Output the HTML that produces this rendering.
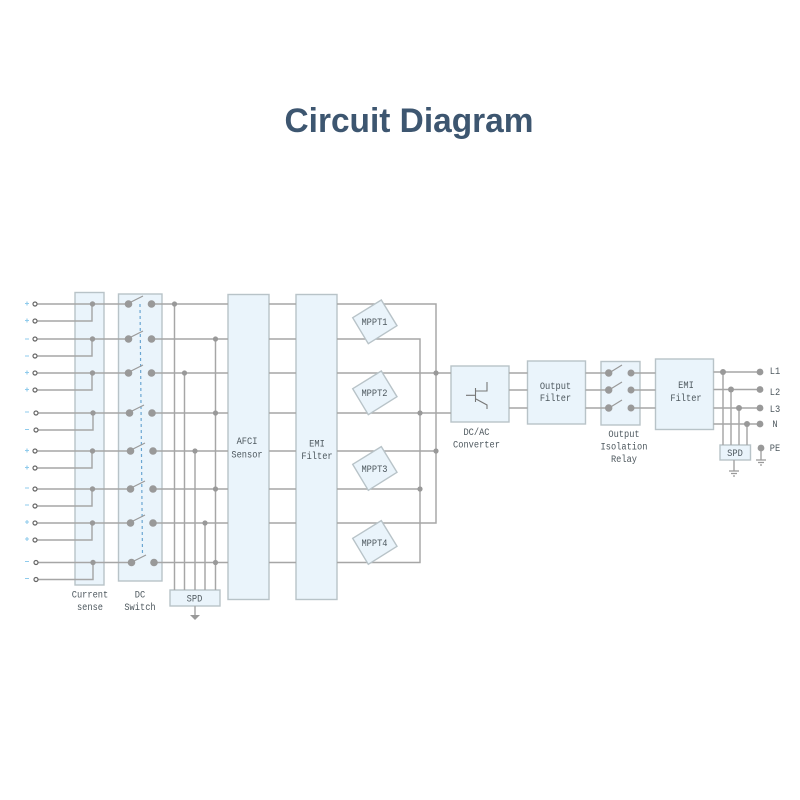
<!DOCTYPE html>
<html><head><meta charset="utf-8"><title>Circuit Diagram</title>
<style>
html,body{margin:0;padding:0;background:#fff;width:800px;height:800px;overflow:hidden}
svg{display:block}
.b{fill:#eaf4fb;stroke:#b8c3c8;stroke-width:1.4}
.w{fill:none;stroke:#a6a6a6;stroke-width:1.45}
.d{fill:#999}
.t{fill:#fff;stroke:#666;stroke-width:1.2}
.l text{font-family:"Liberation Mono",monospace;font-size:8.7px;fill:#4e585e;text-anchor:middle;transform-box:fill-box;transform-origin:50% 80%;transform:scaleY(1.18)}
.s{stroke:#8fcbec;stroke-width:1.1}
</style></head><body>
<svg width="800" height="800" viewBox="0 0 800 800" xmlns="http://www.w3.org/2000/svg">
<defs><filter id="soft" x="0" y="0" width="100%" height="100%"><feGaussianBlur stdDeviation="0.35"/></filter></defs>
<g filter="url(#soft)">
<text x="409" y="132" font-family="Liberation Sans,sans-serif" font-weight="700" font-size="34" fill="#3e5670" text-anchor="middle" textLength="249" lengthAdjust="spacingAndGlyphs">Circuit Diagram</text>

<!-- boxes -->
<rect class="b" x="75" y="292.5" width="29" height="292.5"/>
<rect class="b" x="118.5" y="294" width="43.5" height="287"/>
<rect class="b" x="228" y="294.5" width="41" height="305"/>
<rect class="b" x="296" y="294.5" width="41" height="305"/>
<rect class="b" x="170" y="590" width="50" height="16"/>
<rect class="b" x="451" y="366" width="58" height="56"/>
<rect class="b" x="527.5" y="361" width="58" height="63"/>
<rect class="b" x="601" y="361.5" width="39" height="63.5"/>
<rect class="b" x="655.5" y="359" width="58" height="70.5"/>
<rect class="b" x="720" y="445" width="30.5" height="15"/>

<!-- input wires -->
<g class="w">
<path d="M36 304H128M151 304H228M36 321H92V304"/>
<path d="M36 339H128M151 339H228M36 356H92V339"/>
<path d="M36 373H128M151 373H228M36 390H92V373"/>
<path d="M37 413H129M152 413H228M37 430H93V413"/>
<path d="M36 451H130M153 451H228M36 468H92V451"/>
<path d="M36 489H130M153 489H228M36 506H92V489"/>
<path d="M36 523H130M153 523H228M36 540H92V523"/>
<path d="M37 562.5H131M154 562.5H228M37 579.5H93V562.5"/>
<path d="M174.5 304V590M184.5 373V590M195 451V590M205 523V590M215.5 339V590"/>
<path d="M195 606V615"/>
<path d="M269 304H296M269 339H296M269 373H296M269 413H296M269 451H296M269 489H296M269 523H296M269 562.5H296"/>
<path d="M337 304H436V523H337"/>
<path d="M337 339H420V562.5H337"/>
<path d="M337 373H451M337 413H451M337 451H436M337 489H420"/>
<path d="M509 373H527.5M509 390H527.5M509 408H527.5"/>
<path d="M585.5 373H609M585.5 390H609M585.5 408H609"/>
<path d="M631 373H655.5M631 390H655.5M631 408H655.5"/>
<path d="M713.5 372H760M713.5 389.5H760M713.5 408H760M713.5 424H760"/>
<path d="M723 372V445M731 389.5V445M739 408V445M747 424V445"/>
<path d="M734 460V471M761 448V460"/>
</g>
<path d="M190 615H200L195 620Z" fill="#999"/>
<path d="M729 471H739M731 473.5H737M733 476H735M756 460H766M758 462.5H764M760 465H762" stroke="#999" stroke-width="1.2" fill="none"/>

<!-- dashed ganged switch link -->
<path d="M140 304L142.5 556" stroke="#6ba6d2" stroke-width="1.2" stroke-dasharray="3 3" fill="none"/>

<!-- switch levers -->
<g stroke="#999" stroke-width="1.2" fill="none">
<path d="M129 303L143 296M129 338L143 331M129 372L143 365M130 412L144 405M131 450L145 443M131 488L145 481M131 522L145 515M132 562L146 555"/>
<path d="M609 373L622 365M609 390L622 382M609 408L622 400"/>
</g>

<!-- dots -->
<g class="d">
<circle cx="92.5" cy="304" r="2.7"/><circle cx="92.5" cy="339" r="2.7"/><circle cx="92.5" cy="373" r="2.7"/><circle cx="93" cy="413" r="2.7"/>
<circle cx="92.5" cy="451" r="2.7"/><circle cx="92.5" cy="489" r="2.7"/><circle cx="92.5" cy="523" r="2.7"/><circle cx="93" cy="562.5" r="2.7"/>
<circle cx="128.5" cy="304" r="3.8"/><circle cx="151.5" cy="304" r="3.8"/>
<circle cx="128.5" cy="339" r="3.8"/><circle cx="151.5" cy="339" r="3.8"/>
<circle cx="128.5" cy="373" r="3.8"/><circle cx="151.5" cy="373" r="3.8"/>
<circle cx="129.5" cy="413" r="3.8"/><circle cx="152" cy="413" r="3.8"/>
<circle cx="130.5" cy="451" r="3.8"/><circle cx="153" cy="451" r="3.8"/>
<circle cx="130.5" cy="489" r="3.8"/><circle cx="153" cy="489" r="3.8"/>
<circle cx="130.5" cy="523" r="3.8"/><circle cx="153" cy="523" r="3.8"/>
<circle cx="131.5" cy="562.5" r="3.8"/><circle cx="154" cy="562.5" r="3.8"/>
<circle cx="174.5" cy="304" r="2.6"/><circle cx="215.5" cy="339" r="2.6"/><circle cx="184.5" cy="373" r="2.6"/><circle cx="215.5" cy="413" r="2.6"/>
<circle cx="195" cy="451" r="2.6"/><circle cx="215.5" cy="489" r="2.6"/><circle cx="205" cy="523" r="2.6"/><circle cx="215.5" cy="562.5" r="2.6"/>
<circle cx="436" cy="373" r="2.6"/><circle cx="420" cy="413" r="2.6"/><circle cx="436" cy="451" r="2.6"/><circle cx="420" cy="489" r="2.6"/>
<circle cx="608.7" cy="373" r="3.7"/><circle cx="631" cy="373" r="3.5"/>
<circle cx="608.7" cy="390" r="3.7"/><circle cx="631" cy="390" r="3.5"/>
<circle cx="608.7" cy="408" r="3.7"/><circle cx="631" cy="408" r="3.5"/>
<circle cx="723" cy="372" r="3"/><circle cx="731" cy="389.5" r="3"/><circle cx="739" cy="408" r="3"/><circle cx="747" cy="424" r="3"/>
<circle cx="760" cy="372" r="3.4"/><circle cx="760" cy="389.5" r="3.4"/><circle cx="760" cy="408" r="3.4"/><circle cx="760" cy="424" r="3.4"/><circle cx="761" cy="448" r="3.4"/>
</g>

<!-- terminals -->
<g class="t">
<circle cx="35" cy="304" r="2"/><circle cx="35" cy="321" r="2"/><circle cx="35" cy="339" r="2"/><circle cx="35" cy="356" r="2"/>
<circle cx="35" cy="373" r="2"/><circle cx="35" cy="390" r="2"/><circle cx="36" cy="413" r="2"/><circle cx="36" cy="430" r="2"/>
<circle cx="35" cy="451" r="2"/><circle cx="35" cy="468" r="2"/><circle cx="35" cy="489" r="2"/><circle cx="35" cy="506" r="2"/>
<circle cx="35" cy="523" r="2"/><circle cx="35" cy="540" r="2"/><circle cx="36" cy="562.5" r="2"/><circle cx="36" cy="579.5" r="2"/>
</g>

<!-- polarity signs -->
<g class="s">
<path d="M25 303.5H29M27 301.5V305.5M25 320.5H29M27 318.5V322.5"/>
<path d="M25 339H29M25 356H29"/>
<path d="M25 372.5H29M27 370.5V374.5M25 389.5H29M27 387.5V391.5"/>
<path d="M25 412H29M25 429.5H29"/>
<path d="M25 450.5H29M27 448.5V452.5M25 467.5H29M27 465.5V469.5"/>
<path d="M25 488H29M25 505H29"/>
<path d="M25 522H29M27 520V524M25 539H29M27 537V541"/>
<path d="M25 561.5H29M25 578.5H29"/>
</g>

<!-- MPPT -->
<g class="b">
<polygon points="381.3,300 352.7,317.7 368.3,343.7 397,325.7"/>
<polygon points="381.3,371 352.7,388.7 368.3,414.7 397,396.7"/>
<polygon points="381.3,446.6 352.7,464.3 368.3,490.3 397,472.3"/>
<polygon points="381.3,520.6 352.7,538.3 368.3,564.3 397,546.3"/>
</g>

<!-- transistor -->
<path d="M466 395.3H475.5M475.5 388V402M476 391L487 391V382M476 399L487 405V409" stroke="#777" stroke-width="1.1" fill="none"/>

<!-- labels -->
<g class="l">
<text x="374.5" y="325">MPPT1</text>
<text x="374.5" y="396">MPPT2</text>
<text x="374.5" y="472">MPPT3</text>
<text x="374.5" y="546">MPPT4</text>
<text x="90" y="597.5">Current</text>
<text x="90" y="610">sense</text>
<text x="140" y="597.5">DC</text>
<text x="140" y="610">Switch</text>
<text x="194.5" y="601.5">SPD</text>
<text x="247" y="444">AFCI</text>
<text x="247" y="457.5">Sensor</text>
<text x="317" y="446.5">EMI</text>
<text x="317" y="459">Filter</text>
<text x="476.5" y="435">DC/AC</text>
<text x="476.5" y="447.5">Converter</text>
<text x="555.5" y="389">Output</text>
<text x="555.5" y="401">Filter</text>
<text x="624" y="437">Output</text>
<text x="624" y="449.5">Isolation</text>
<text x="624" y="462">Relay</text>
<text x="686" y="388">EMI</text>
<text x="686" y="401">Filter</text>
<text x="735" y="456">SPD</text>
<text x="775" y="374">L1</text>
<text x="775" y="395">L2</text>
<text x="775" y="412">L3</text>
<text x="775" y="427">N</text>
<text x="775" y="451">PE</text>
</g>
</g>
</svg>
</body></html>
